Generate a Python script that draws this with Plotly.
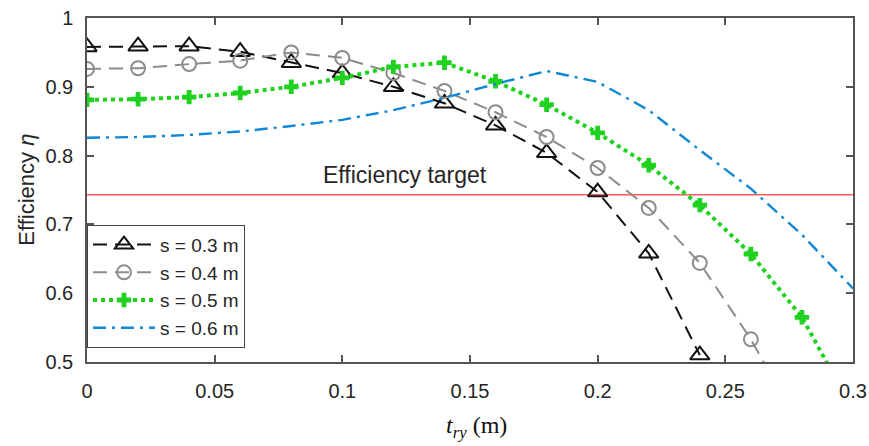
import plotly.graph_objects as go

x_vals = [0.00, 0.02, 0.04, 0.06, 0.08, 0.10, 0.12, 0.14, 0.16, 0.18, 0.20, 0.22, 0.24, 0.26, 0.28, 0.30]
s03 = [0.958, 0.959, 0.959, 0.951, 0.935, 0.920, 0.900, 0.876, 0.844, 0.804, 0.747, 0.658, 0.510]
s04 = [0.926, 0.927, 0.933, 0.938, 0.950, 0.942, 0.920, 0.894, 0.863, 0.827, 0.782, 0.724, 0.644, 0.533, 0.400]
s05 = [0.881, 0.882, 0.885, 0.891, 0.900, 0.913, 0.929, 0.935, 0.908, 0.874, 0.833, 0.786, 0.728, 0.657, 0.565, 0.430]
s06 = [0.826, 0.827, 0.830, 0.835, 0.843, 0.852, 0.866, 0.884, 0.904, 0.923, 0.907, 0.866, 0.808, 0.752, 0.685, 0.607]
target = 0.743
target_x = [0.0, 0.3]
legend_names = ["s = 0.3 m", "s = 0.4 m", "s = 0.5 m", "s = 0.6 m"]
x_ticks = [0, 0.05, 0.1, 0.15, 0.2, 0.25, 0.3]
x_ticktext = ["0", "0.05", "0.1", "0.15", "0.2", "0.25", "0.3"]
y_ticks = [0.5, 0.6, 0.7, 0.8, 0.9, 1.0]
y_ticktext = ["0.5", "0.6", "0.7", "0.8", "0.9", "1"]

FONT = "Arial, Liberation Sans, sans-serif"
TXT = "#262626"

fig = go.Figure()

fig.add_trace(go.Scatter(
    x=target_x, y=[target, target], mode="lines",
    line=dict(color="#ff5a5a", width=1.5), showlegend=False, hoverinfo="skip"))

fig.add_trace(go.Scatter(
    x=x_vals[:len(s03)], y=s03, name=legend_names[0], mode="lines+markers",
    line=dict(color="#111111", width=2, dash="14px,8px"),
    marker=dict(symbol="triangle-up-open", size=17, color="#111111", line=dict(width=2))))

fig.add_trace(go.Scatter(
    x=x_vals[:len(s04)], y=s04, name=legend_names[1], mode="lines+markers",
    line=dict(color="#8c8c8c", width=2, dash="14px,8px"),
    marker=dict(symbol="circle-open", size=14, color="#8c8c8c", line=dict(width=2))))

fig.add_trace(go.Scatter(
    x=x_vals[:len(s05)], y=s05, name=legend_names[2], mode="lines+markers",
    line=dict(color="#1fd21f", width=4, dash="4px,4px"),
    marker=dict(symbol="cross", size=12, color="#1fd21f")))

fig.add_trace(go.Scatter(
    x=x_vals[:len(s06)], y=s06, name=legend_names[3], mode="lines",
    line=dict(color="#1188d6", width=2.4, dash="13px,6px,3px,6px")))

fig.add_annotation(x=0.1245, y=0.772, xref="x", yref="y", text="Efficiency target",
                   showarrow=False, font=dict(family=FONT, size=23, color=TXT),
                   xanchor="center", yanchor="middle")

# axis titles
fig.add_annotation(x=-0.080, y=0.50, xref="paper", yref="paper",
                   text="Efficiency <i>η</i>", textangle=-90, showarrow=False,
                   font=dict(family=FONT, size=22, color=TXT),
                   xanchor="center", yanchor="middle")
fig.add_annotation(x=0.509, y=-0.19, xref="paper", yref="paper",
                   text="<i>t</i><sub><i>ry</i></sub> (m)", showarrow=False,
                   font=dict(family="Liberation Serif, Times New Roman, serif", size=24, color="#111111"),
                   xanchor="center", yanchor="middle")

axis_common = dict(showgrid=False, zeroline=False, showline=True, mirror="allticks",
                   linecolor="#555555", linewidth=1.5, ticks="inside", ticklen=7,
                   tickwidth=1.5, tickcolor="#555555", automargin=False,
                   tickfont=dict(family=FONT, size=20, color=TXT))

fig.update_layout(
    width=869, height=446,
    margin=dict(l=87, r=16, t=18, b=84, autoexpand=False),
    paper_bgcolor="white", plot_bgcolor="white",
    xaxis=dict(range=[0, 0.3], tickvals=x_ticks, ticktext=x_ticktext,
               ticklabelstandoff=10, **axis_common),
    yaxis=dict(range=[0.5, 1.0], tickvals=y_ticks, ticktext=y_ticktext,
               ticklabelstandoff=8, **axis_common),
    legend=dict(x=0.0, y=0.399, xanchor="left", yanchor="top",
                bgcolor="white", bordercolor="#444444", borderwidth=1,
                font=dict(family=FONT, size=19, color=TXT),
                tracegroupgap=0, itemwidth=62),
)

fig.write_html("out.html")
